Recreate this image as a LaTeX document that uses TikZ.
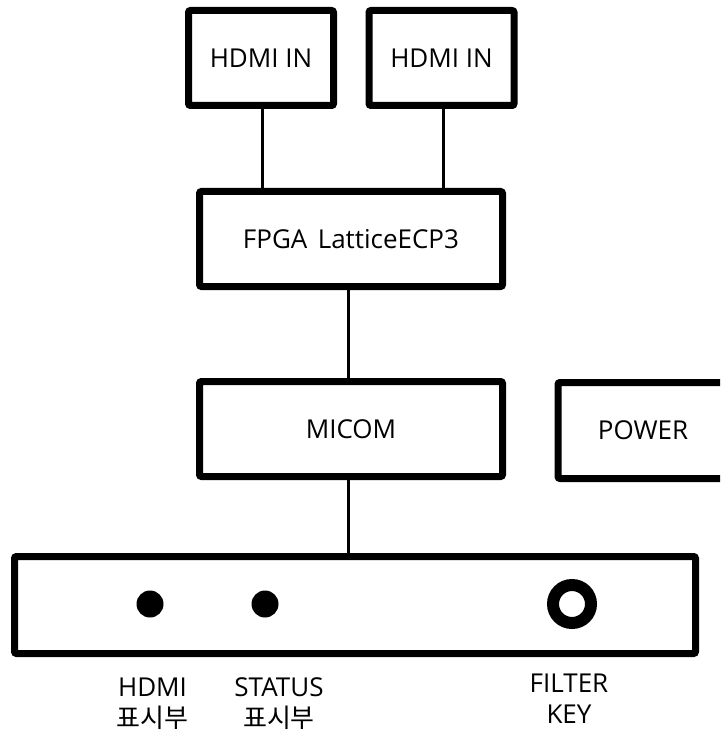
\documentclass[tikz,border=0pt]{standalone}
\usepackage{fontspec}
\setmainfont{Open Sans}
\newfontfamily\krfont{Noto Sans CJK KR}
\usetikzlibrary{positioning}

\begin{document}
\begin{tikzpicture}[
  x=1pt, y=-1pt,
  font=\fontsize{26}{31}\selectfont,
  block/.style={rectangle, rounded corners=2pt, draw=black, line width=7pt, fill=white, inner sep=0pt, minimum height=95pt, align=center},
  inbox/.style={block, minimum width=145pt},
  wide/.style={block, minimum width=303pt},
  panelbox/.style={rectangle, rounded corners=2pt, draw=black, line width=7pt, inner sep=0pt, minimum width=681pt, minimum height=97pt},
  led/.style={circle, fill=black, inner sep=0pt, minimum width=25pt, minimum height=27pt},
  keyring/.style={circle, draw=black, line width=12pt, inner sep=0pt, minimum size=38pt},
  caption/.style={align=center, inner sep=0pt},
  wire/.style={line width=3pt, draw=black}
]
\clip (0,0) rectangle (720,735);
\node[inbox] (hdmiL) at (261,58) {HDMI IN};
\node[inbox] (hdmiR) at (441.5,58) {HDMI IN};
\node[wide] (fpga) at (351,239) {FPGA\hspace{0.4em}LatticeECP3};
\node[wide, below=88pt of fpga] (micom) {MICOM};
\node[block, minimum width=170pt, minimum height=96pt] (power) at (643,430.5) {POWER};
\node[panelbox] (panel) at (355,605) {};
\node[led] (ledhdmi) at (150,604) {};
\node[led] (ledstat) at (265,604) {};
\node[keyring] (filterkey) at (572,604) {};
\node[caption] (caphdmi) at (152.5,703.5) {HDMI\\{\krfont 표시부}};
\node[caption] (capstat) at (279,703.5) {STATUS\\{\krfont 표시부}};
\node[caption] (capkey) at (569,699) {FILTER\\KEY};
\draw[wire] ([xshift=1pt]hdmiL.south) -- ([xshift=1pt]hdmiL.south |- fpga.north);
\draw[wire] ([xshift=1.5pt]hdmiR.south) -- ([xshift=1.5pt]hdmiR.south |- fpga.north);
\draw[wire] ([xshift=-3pt]fpga.south) -- ([xshift=-3pt]micom.north);
\draw[wire] ([xshift=-3pt]micom.south) -- ([xshift=-3pt]micom.south |- panel.north);
\end{tikzpicture}
\end{document}
